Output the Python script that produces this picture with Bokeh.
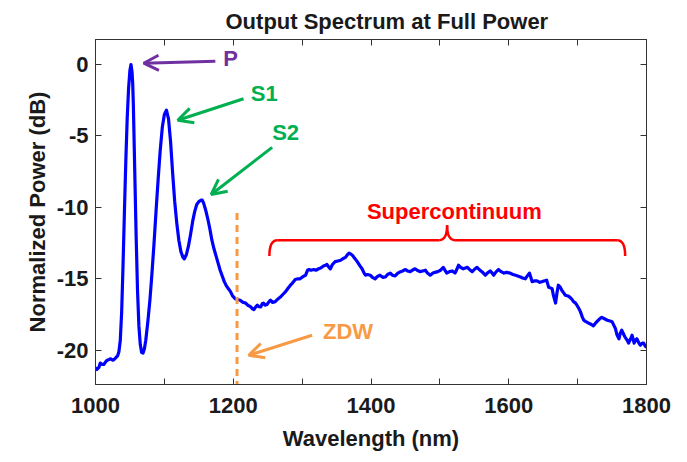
from bokeh.plotting import figure
from bokeh.models import Range1d, LinearAxis, FixedTicker, Arrow, OpenHead, Label
from bokeh.embed import file_html
from bokeh.resources import INLINE

# ---------------- data ----------------
wavelength = [
    1000, 1002, 1005, 1007, 1010, 1012, 1015, 1017, 1020, 1022, 1025, 1027, 1030, 1032, 1034,
    1036, 1038, 1040, 1042, 1044, 1046, 1048, 1050, 1051.5, 1053, 1054, 1055, 1057, 1059, 1061,
    1063, 1065, 1067, 1069, 1071, 1073, 1076, 1079, 1082, 1085, 1088, 1091, 1094, 1097, 1100,
    1103, 1106, 1109, 1112, 1115, 1118, 1121, 1124, 1127, 1129, 1132, 1135, 1138, 1141, 1144,
    1147, 1150, 1153, 1155, 1157, 1160, 1163, 1166, 1169, 1172, 1175, 1178, 1181, 1184, 1187,
    1190, 1193, 1196, 1199, 1203, 1206, 1210, 1214, 1218, 1221, 1225, 1228, 1230, 1233, 1235,
    1237, 1240, 1242, 1244, 1246, 1249, 1252, 1254, 1257, 1261, 1264, 1268, 1272, 1276, 1279,
    1283, 1286, 1290, 1294, 1297, 1301, 1305, 1308, 1310, 1313, 1317, 1320, 1324, 1327, 1331,
    1334, 1336, 1339, 1341, 1344, 1348, 1352, 1356, 1359, 1363, 1366, 1368, 1370, 1373, 1376,
    1380, 1384, 1387, 1390, 1392, 1395, 1399, 1402, 1406, 1409, 1413, 1417, 1421, 1424, 1428,
    1431, 1435, 1439, 1443, 1446, 1450, 1453, 1457, 1460, 1464, 1467, 1471, 1475, 1479, 1482,
    1486, 1490, 1493, 1497, 1501, 1505, 1508, 1510, 1514, 1518, 1522, 1525, 1527, 1530, 1534,
    1537, 1540, 1543, 1547, 1550, 1554, 1557, 1561, 1566, 1569, 1573, 1576, 1578, 1581, 1585,
    1589, 1593, 1597, 1602, 1606, 1610, 1613, 1617, 1620, 1624, 1627, 1630, 1632, 1634, 1637,
    1641, 1645, 1648, 1651, 1655, 1658, 1661, 1663, 1665, 1668, 1670, 1672, 1675, 1677, 1680,
    1682, 1686, 1689, 1692, 1694, 1697, 1699, 1702, 1704, 1707, 1709, 1712, 1716, 1720, 1723,
    1726, 1728, 1732, 1735, 1739, 1743, 1747, 1750, 1753, 1755, 1757, 1760, 1762, 1764, 1767,
    1769, 1772, 1774, 1777, 1779, 1781, 1782, 1784, 1786, 1789, 1791, 1794, 1796, 1798, 1800,
]
power_db = [
    -21.2, -21.35, -21.2, -20.9, -21.0, -21.0, -20.8, -20.7, -20.65, -20.6, -20.7, -20.65, -20.5, -20.4, -20.1,
    -19.3, -17.3, -14.0, -10.3, -6.8, -3.8, -1.7, -0.4, 0.0, -0.5, -1.3, -2.9, -7.5, -12.0, -15.8,
    -18.3, -19.6, -20.15, -20.2, -19.9, -19.3, -18.0, -16.5, -14.6, -12.5, -10.2, -8.0, -6.0, -4.4, -3.5,
    -3.2, -3.8, -5.4, -7.6, -9.6, -11.1, -12.3, -13.1, -13.5, -13.6, -13.3, -12.7, -11.9, -11.0, -10.3,
    -9.8, -9.6, -9.5, -9.5, -9.7, -10.2, -10.8, -11.5, -12.3, -12.9, -13.4, -13.9, -14.4, -14.8, -15.2,
    -15.5, -15.7, -15.9, -16.2, -16.4, -16.45, -16.5, -16.65, -16.7, -16.85, -16.95, -17.1, -17.15, -16.95, -16.85,
    -16.95, -16.97, -16.75, -16.7, -16.85, -16.8, -16.6, -16.5, -16.65, -16.6, -16.45, -16.3, -16.1, -15.9, -15.7,
    -15.45, -15.3, -15.05, -15.0, -15.0, -14.85, -14.75, -14.4, -14.35, -14.4, -14.35, -14.4, -14.3, -14.25, -14.1,
    -14.05, -14.0, -14.2, -14.3, -14.0, -13.8, -13.75, -13.7, -13.6, -13.5, -13.3, -13.2, -13.25, -13.35, -13.55,
    -13.8, -14.1, -14.3, -14.6, -14.75, -14.7, -14.75, -14.9, -15.0, -14.85, -14.75, -14.9, -14.87, -14.7, -14.6,
    -14.75, -14.8, -14.6, -14.5, -14.45, -14.35, -14.45, -14.5, -14.4, -14.3, -14.4, -14.5, -14.45, -14.4, -14.6,
    -14.75, -14.6, -14.55, -14.5, -14.4, -14.2, -14.45, -14.6, -14.5, -14.45, -14.6, -14.3, -14.05, -14.2, -14.3,
    -14.25, -14.2, -14.35, -14.5, -14.35, -14.2, -14.35, -14.5, -14.75, -14.6, -14.45, -14.6, -14.75, -14.55, -14.35,
    -14.5, -14.6, -14.55, -14.6, -14.7, -14.75, -14.8, -14.87, -14.95, -15.0, -14.8, -14.6, -14.9, -15.2, -15.15,
    -15.15, -15.25, -15.2, -15.15, -15.1, -15.6, -15.65, -15.7, -16.2, -16.7, -16.0, -15.45, -15.6, -15.8, -16.0,
    -16.15, -16.2, -16.3, -16.45, -16.6, -16.7, -16.85, -17.1, -17.3, -17.7, -17.9, -18.0, -18.1, -18.2, -18.3,
    -18.1, -18.0, -17.8, -17.7, -17.8, -17.9, -17.95, -18.0, -18.3, -18.5, -18.9, -19.2, -18.8, -18.6, -18.9,
    -19.1, -19.3, -19.5, -19.2, -18.95, -19.3, -19.5, -19.3, -19.2, -19.5, -19.65, -19.5, -19.5, -19.7, -19.8,
]

x_ticks = [1000, 1100, 1200, 1300, 1400, 1500, 1600, 1700, 1800]
x_tick_labels = ["1000", "", "1200", "", "1400", "", "1600", "", "1800"]
y_ticks = [-20, -15, -10, -5, 0]
y_tick_labels = ["-20", "-15", "-10", "-5", "0"]

# annotations: label text, label position, arrow start, arrow end, colour
peak_labels = ["P", "S1", "S2"]
peak_label_x = [1196, 1245, 1276]
peak_label_y = [0.42, -2.0, -4.75]
peak_arrow_x0 = [1174, 1215, 1256.5]
peak_arrow_y0 = [0.23, -2.4, -5.8]
peak_arrow_x1 = [1070, 1119.4, 1168]
peak_arrow_y1 = [0.09, -3.9, -9.1]
peak_colors = ["#7030A0", "#00B050", "#00B050"]

zdw_wavelength = 1205.5
zdw_top = -10.4
zdw_label_x, zdw_label_y = 1366.7, -18.7
zdw_arrow = (1314.5, -18.95, 1222.5, -20.35)
zdw_color = "#F79A45"

sc_label = "Supercontinuum"
sc_label_x, sc_label_y = 1521, -10.26
brace_left, brace_mid, brace_right = 1252.5, 1510.5, 1769
brace_end_y, brace_bar_y, brace_tip_y = -13.4, -12.3, -11.26
brace_curl = 11.5
sc_color = "#FF0000"

x_min, x_max = 1000, 1800
y_min, y_max = -22.4, 1.75

FONT = "Liberation Sans"
TXT = "#1a1a1a"
AX = "#333333"

# ---------------- figure ----------------
p = figure(output_backend="svg", toolbar_location=None,
           frame_width=551, frame_height=345,
           min_border_left=95, min_border_right=33, min_border_top=39, min_border_bottom=70,
           x_range=Range1d(x_min, x_max), y_range=Range1d(y_min, y_max))
p.background_fill_color = "white"
p.border_fill_color = "white"
p.outline_line_color = AX
p.outline_line_width = 1
p.xgrid.visible = False
p.ygrid.visible = False

p.title.text = "Output Spectrum at Full Power"
p.title.text_font = FONT
p.title.text_font_size = "22px"
p.title.text_font_style = "bold"
p.title.text_color = TXT
p.title.align = "left"
p.title.offset = 130
p.title.standoff = 11

def style_axis(ax, ticks, labels, show_labels):
    ax.ticker = FixedTicker(ticks=ticks)
    ax.axis_line_color = AX
    ax.major_tick_line_color = AX
    ax.major_tick_in = 6
    ax.major_tick_out = 0
    ax.minor_tick_line_color = None
    ax.major_label_text_font = FONT
    ax.major_label_text_font_style = "bold"
    ax.major_label_text_color = TXT
    if show_labels:
        ax.major_label_overrides = {t: l for t, l in zip(ticks, labels)}
        ax.major_label_text_font_size = "22px"
    else:
        ax.major_label_overrides = {t: "" for t in ticks}
        ax.major_label_text_font_size = "10px"
        ax.major_label_standoff = 0

xb = p.xaxis[0]
style_axis(xb, x_ticks, x_tick_labels, True)
xb.major_label_standoff = 13
xb.axis_label = "Wavelength (nm)"
xb.axis_label_text_font = FONT
xb.axis_label_text_font_size = "22px"
xb.axis_label_text_font_style = "bold"
xb.axis_label_text_color = TXT
xb.axis_label_standoff = 10

yl = p.yaxis[0]
style_axis(yl, y_ticks, y_tick_labels, True)
yl.major_label_standoff = 7
yl.axis_label = "Normalized Power (dB)"
yl.axis_label_text_font = FONT
yl.axis_label_text_font_size = "22px"
yl.axis_label_text_font_style = "bold"
yl.axis_label_text_color = TXT
yl.axis_label_standoff = 4

xt = LinearAxis()
style_axis(xt, x_ticks, x_tick_labels, False)
p.add_layout(xt, "above")
yr = LinearAxis()
style_axis(yr, y_ticks, y_tick_labels, False)
p.add_layout(yr, "right")

# spectrum
p.line(wavelength, power_db, line_color="#0000FF", line_width=3.2, line_join="round")

# ZDW dashed line
p.segment(x0=[zdw_wavelength], y0=[zdw_top], x1=[zdw_wavelength], y1=[y_min],
          line_color=zdw_color, line_width=3, line_dash="7 5")

# arrows + labels for peaks
for t, lx, ly, x0, y0, x1, y1, c in zip(peak_labels, peak_label_x, peak_label_y,
                                         peak_arrow_x0, peak_arrow_y0,
                                         peak_arrow_x1, peak_arrow_y1, peak_colors):
    p.add_layout(Arrow(x_start=x0, y_start=y0, x_end=x1, y_end=y1,
                       line_color=c, line_width=3,
                       end=OpenHead(size=15, line_color=c, line_width=3)))
    p.add_layout(Label(x=lx, y=ly, text=t, text_align="center", text_baseline="middle",
                       text_font=FONT, text_font_style="bold", text_font_size="22px",
                       text_color=c))

# ZDW arrow + label
p.add_layout(Arrow(x_start=zdw_arrow[0], y_start=zdw_arrow[1], x_end=zdw_arrow[2], y_end=zdw_arrow[3],
                   line_color=zdw_color, line_width=3,
                   end=OpenHead(size=15, line_color=zdw_color, line_width=3)))
p.add_layout(Label(x=zdw_label_x, y=zdw_label_y, text="ZDW", text_align="center", text_baseline="middle",
                   text_font=FONT, text_font_style="bold", text_font_size="22px", text_color=zdw_color))

# supercontinuum brace
bx0 = [brace_left, brace_mid - brace_curl, brace_mid, brace_right - brace_curl]
by0 = [brace_end_y, brace_bar_y, brace_tip_y, brace_bar_y]
bx1 = [brace_left + brace_curl, brace_mid, brace_mid + brace_curl, brace_right]
by1 = [brace_bar_y, brace_tip_y, brace_bar_y, brace_end_y]
bcx = [brace_left, brace_mid, brace_mid, brace_right]
bcy = [brace_bar_y, brace_bar_y, brace_bar_y, brace_bar_y]
p.quadratic(x0=bx0, y0=by0, x1=bx1, y1=by1, cx=bcx, cy=bcy, line_color=sc_color, line_width=2.5)
p.segment(x0=[brace_left + brace_curl, brace_mid + brace_curl],
          y0=[brace_bar_y, brace_bar_y],
          x1=[brace_mid - brace_curl, brace_right - brace_curl],
          y1=[brace_bar_y, brace_bar_y], line_color=sc_color, line_width=2.5)
p.add_layout(Label(x=sc_label_x, y=sc_label_y, text=sc_label, text_align="center", text_baseline="middle",
                   text_font=FONT, text_font_style="bold", text_font_size="22px", text_color=sc_color))

open("out.html", "w").write(file_html(p, INLINE))
